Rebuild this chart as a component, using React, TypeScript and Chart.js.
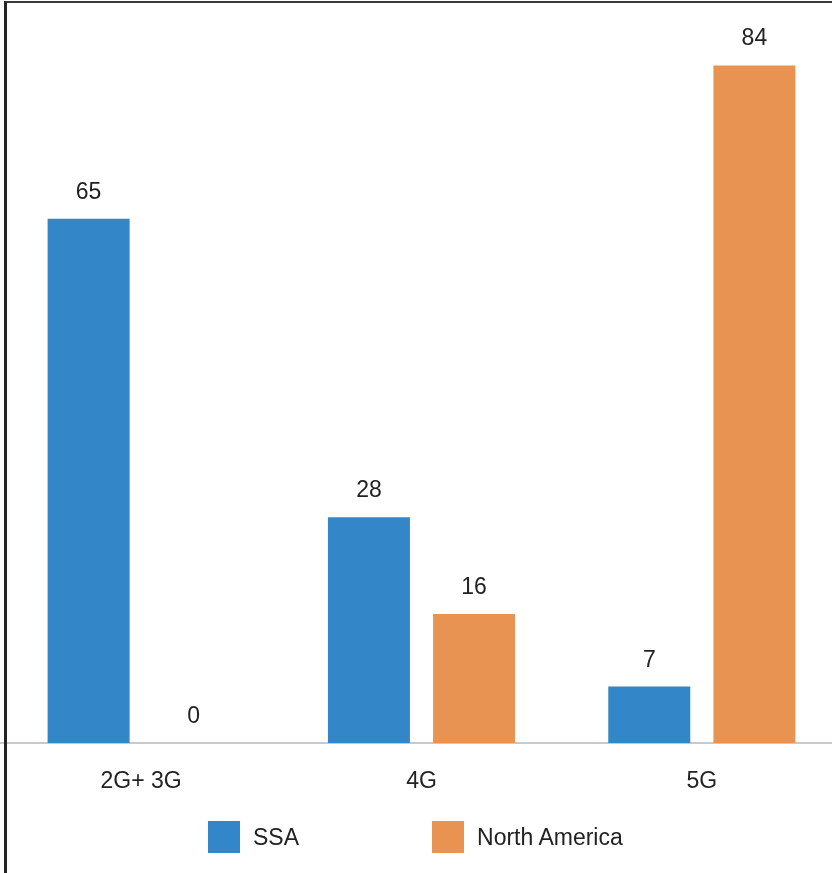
import React, { useEffect, useRef } from "react";
import { Chart, registerables, Plugin } from "chart.js";

Chart.register(...registerables);

const categories = ["2G+ 3G", "4G", "5G"];
const ssaValues = [65, 28, 7];
const northAmericaValues = [0, 16, 84];
const seriesNames = ["SSA", "North America"];
const seriesColors = ["#3386c7", "#e89352"];

const FONT = "'Liberation Sans', Arial, Helvetica, sans-serif";
const FONT_SIZE = 23;
const TEXT_COLOR = "#222222";

// Writes each bar's value just above its top edge.
const valueLabels: Plugin<"bar"> = {
  id: "valueLabels",
  afterDatasetsDraw(chart) {
    const { ctx } = chart;
    ctx.save();
    ctx.font = `${FONT_SIZE}px ${FONT}`;
    ctx.fillStyle = TEXT_COLOR;
    ctx.textAlign = "center";
    ctx.textBaseline = "alphabetic";
    chart.data.datasets.forEach((ds, di) => {
      const meta = chart.getDatasetMeta(di);
      meta.data.forEach((bar, i) => {
        const v = ds.data[i] as number;
        ctx.fillText(String(v), bar.x, bar.y - 20);
      });
    });
    ctx.restore();
  },
};

export default function App() {
  const canvasRef = useRef<HTMLCanvasElement | null>(null);

  useEffect(() => {
    if (!canvasRef.current) return;
    const chart = new Chart(canvasRef.current, {
      type: "bar",
      data: {
        labels: categories,
        datasets: [
          {
            label: seriesNames[0],
            data: ssaValues,
            backgroundColor: seriesColors[0],
            categoryPercentage: 0.75,
            barPercentage: 0.78,
          },
          {
            label: seriesNames[1],
            data: northAmericaValues,
            backgroundColor: seriesColors[1],
            categoryPercentage: 0.75,
            barPercentage: 0.78,
          },
        ],
      },
      options: {
        responsive: false,
        animation: false,
        layout: { padding: { top: 17, left: 1, right: 1, bottom: 0 } },
        plugins: {
          legend: { display: false },
          tooltip: { enabled: false },
        },
        scales: {
          x: {
            grid: { display: false, drawTicks: false },
            border: { display: true, color: "#c6c9cf", width: 2 },
            ticks: {
              padding: 25,
              color: TEXT_COLOR,
              font: { family: FONT, size: FONT_SIZE },
            },
            afterFit(scale) {
              scale.height = 57;
            },
          },
          y: {
            display: false,
            min: 0,
            max: 90,
          },
        },
      },
      plugins: [valueLabels],
    });
    return () => chart.destroy();
  }, []);

  const legendBox = (color: string): React.CSSProperties => ({
    width: 32,
    height: 32,
    background: color,
    flex: "0 0 auto",
  });

  return (
    <div
      style={{
        position: "absolute",
        left: 0,
        top: 0,
        width: 832,
        height: 873,
        overflow: "hidden",
        background: "#ffffff",
        fontFamily: FONT,
      }}
    >
      <canvas
        ref={canvasRef}
        width={843}
        height={800}
        style={{ position: "absolute", left: 0, top: 0, width: 843, height: 800 }}
      />
      <div
        style={{
          position: "absolute",
          left: 4,
          top: 1,
          width: 900,
          height: 900,
          borderLeft: "3px solid #232323",
          borderTop: "2px solid #3a3a3a",
          boxSizing: "border-box",
          pointerEvents: "none",
        }}
      />
      <div
        style={{
          position: "absolute",
          left: 208,
          top: 821,
          height: 32,
          display: "flex",
          alignItems: "center",
          fontSize: FONT_SIZE,
          color: TEXT_COLOR,
          whiteSpace: "nowrap",
        }}
      >
        <div style={legendBox(seriesColors[0])} />
        <span style={{ marginLeft: 13 }}>{seriesNames[0]}</span>
        <div style={{ ...legendBox(seriesColors[1]), marginLeft: 133 }} />
        <span style={{ marginLeft: 13 }}>{seriesNames[1]}</span>
      </div>
    </div>
  );
}
